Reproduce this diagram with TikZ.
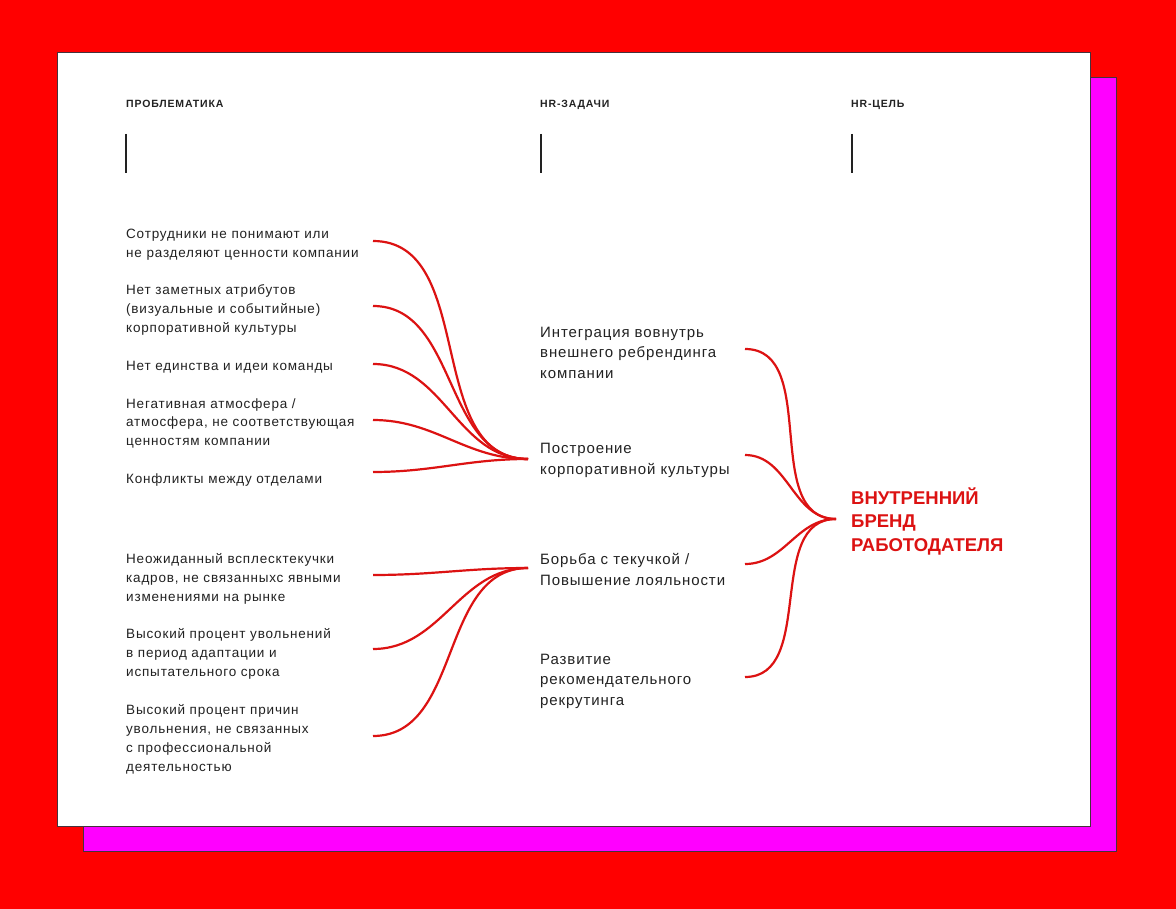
\documentclass[tikz,border=0pt]{standalone}
\usepackage{fontspec}
\setmainfont{Liberation Sans}
\newfontfamily\problemfont[LetterSpace=6]{Liberation Sans}
\newfontfamily\taskfont[LetterSpace=6]{Liberation Sans}
\newfontfamily\headerfont[LetterSpace=8]{Liberation Sans}
\usetikzlibrary{positioning}

\definecolor{bgred}{RGB}{255,0,0}
\definecolor{shadowpink}{RGB}{255,0,255}
\definecolor{cardedge}{RGB}{70,50,60}
\definecolor{textgray}{RGB}{34,34,34}
\definecolor{linkred}{RGB}{220,18,18}

\tikzset{
  header/.style={anchor=base west, inner sep=0pt, text=textgray, font=\headerfont\fontsize{10.5}{12}\selectfont\bfseries},
  problem/.style={anchor=base west, align=left, inner sep=0pt, text=textgray, font=\problemfont\fontsize{13.5}{19}\selectfont},
  task/.style={anchor=base west, align=left, inner sep=0pt, text=textgray, font=\taskfont\fontsize{15}{20.5}\selectfont},
  goal/.style={anchor=base west, align=left, inner sep=0pt, text=linkred, font=\fontsize{18.5}{23.5}\selectfont\bfseries},
  link/.style={linkred, line width=2.2pt},
  bar/.style={textgray, line width=1.6pt}
}

\begin{document}
\begin{tikzpicture}[x=1pt,y=-1pt]
\useasboundingbox (0,0) rectangle (1176,909);
\fill[bgred] (0,0) rectangle (1176,909);
\draw[cardedge, fill=shadowpink, line width=0.8pt] (83,77) rectangle (1116,851);
\draw[cardedge, fill=white, line width=0.8pt] (57,52) rectangle (1090,826);

% column headers
\node[header] (hproblem) at (126,108) {ПРОБЛЕМАТИКА};
\node[header] (htask)    at (540,108) {HR-ЗАДАЧИ};
\node[header] (hgoal)    at (851,108) {HR-ЦЕЛЬ};
\draw[bar] (126,134) -- (126,173);
\draw[bar] (541,134) -- (541,173);
\draw[bar] (852,134) -- (852,173);

% problems (placed at the baseline of their last line)
\node[problem] (p1) at (126,258) {Сотрудники не понимают или\\не разделяют ценности компании};
\node[problem] (p2) at (126,333) {Нет заметных атрибутов\\(визуальные и событийные)\\корпоративной культуры};
\node[problem] (p3) at (126,371) {Нет единства и идеи команды};
\node[problem] (p4) at (126,446) {Негативная атмосфера /\\атмосфера, не соответствующая\\ценностям компании};
\node[problem] (p5) at (126,483) {Конфликты между отделами};
\node[problem] (p6) at (126,601) {Неожиданный всплесктекучки\\кадров, не связанныхс явными\\изменениями на рынке};
\node[problem] (p7) at (126,676) {Высокий процент увольнений\\в период адаптации и\\испытательного срока};
\node[problem] (p8) at (126,771) {Высокий процент причин\\увольнения, не связанных\\с профессиональной\\деятельностью};

% tasks
\node[task] (t1) at (540,378) {Интеграция вовнутрь\\внешнего ребрендинга\\компании};
\node[task] (t2) at (540,474) {Построение\\корпоративной культуры};
\node[task] (t3) at (540,585) {Борьба с текучкой /\\Повышение лояльности};
\node[task] (t4) at (540,705) {Развитие\\рекомендательного\\рекрутинга};

% goal
\node[goal] (g) at (851,551) {ВНУТРЕННИЙ\\БРЕНД\\РАБОТОДАТЕЛЯ};

% curve ends
\coordinate (e1) at (373,241);
\coordinate (e2) at (373,306);
\coordinate (e3) at (373,364);
\coordinate (e4) at (373,420);
\coordinate (e5) at (373,472);
\coordinate (e6) at (373,575);
\coordinate (e7) at (373,649);
\coordinate (e8) at (373,736);
\coordinate (hub2) at (528,459);
\coordinate (hub3) at (528,568);
\coordinate (f1) at (745,349);
\coordinate (f2) at (745,455);
\coordinate (f3) at (745,564);
\coordinate (f4) at (745,677);
\coordinate (hubg) at (836,519);

\foreach \i in {1,...,5}
  \draw[link] (e\i) to[out=0,in=180] (hub2);
\foreach \i in {6,7,8}
  \draw[link] (e\i) to[out=0,in=180] (hub3);
\foreach \i in {1,...,4}
  \draw[link] (f\i) to[out=0,in=180] (hubg);
\end{tikzpicture}
\end{document}
